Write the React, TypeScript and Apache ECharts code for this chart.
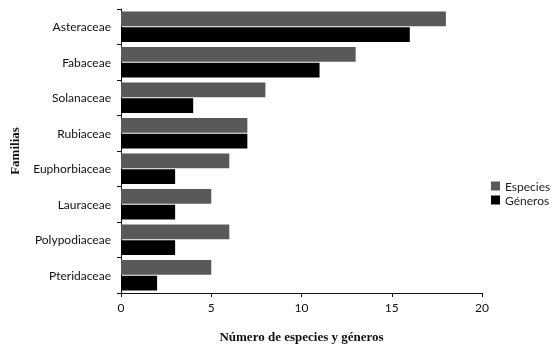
import React, { useEffect, useRef } from "react";
import * as echarts from "echarts";

const categories = ["Asteraceae", "Fabaceae", "Solanaceae", "Rubiaceae", "Euphorbiaceae", "Lauraceae", "Polypodiaceae", "Pteridaceae"];
const especies = [18, 13, 8, 7, 6, 5, 6, 5];
const generos = [16, 11, 4, 7, 3, 3, 3, 2];
const xTicks = { min: 0, max: 20, interval: 5 };

export default function App() {
  const ref = useRef<HTMLDivElement>(null);
  useEffect(() => {
    const chart = echarts.init(ref.current!, null, { renderer: "svg" });
    chart.setOption({
      animation: false,
      textStyle: { fontFamily: "Lato" },
      grid: { left: 120, right: 70, top: 9, bottom: 56 },
      legend: {
        orient: "vertical",
        left: 486,
        top: 175,
        icon: "rect",
        itemWidth: 9,
        itemHeight: 9,
        itemGap: 2,
        textStyle: { fontFamily: "Lato", fontSize: 12, lineHeight: 12, color: "#222" },
        data: ["Especies", "Géneros"],
      },
      xAxis: {
        type: "value",
        min: xTicks.min,
        max: xTicks.max,
        interval: xTicks.interval,
        splitLine: { show: false },
        axisLine: { show: true, lineStyle: { color: "#111", width: 1 } },
        axisTick: { show: true, length: 4, lineStyle: { color: "#111" } },
        axisLabel: { color: "#111", fontSize: 12, fontFamily: "Lato", margin: 8 },
        name: "Número de especies y géneros",
        nameLocation: "middle",
        nameGap: 37,
        nameTextStyle: { fontFamily: "Times New Roman, Liberation Serif, serif", fontWeight: "bold", fontSize: 13, color: "#111" },
      },
      yAxis: {
        type: "category",
        data: categories,
        inverse: true,
        axisLine: { show: true, lineStyle: { color: "#111", width: 1 } },
        axisTick: { show: true, length: 4, lineStyle: { color: "#111" } },
        axisLabel: { color: "#111", fontSize: 12, fontFamily: "Lato", margin: 10 },
        name: "Familias",
        nameLocation: "middle",
        nameGap: 100,
        nameTextStyle: { fontFamily: "Times New Roman, Liberation Serif, serif", fontWeight: "bold", fontSize: 13, color: "#111" },
      },
      series: [
        {
          name: "Especies",
          type: "bar",
          data: especies,
          barGap: "6%",
          barCategoryGap: "14%",
          itemStyle: { color: "#595959" },
        },
        {
          name: "Géneros",
          type: "bar",
          data: generos,
          itemStyle: { color: "#000000" },
        },
      ],
    });
    return () => chart.dispose();
  }, []);
  return <div ref={ref} style={{ position: "fixed", left: 0, top: 0, width: 552, height: 349 }} />;
}
